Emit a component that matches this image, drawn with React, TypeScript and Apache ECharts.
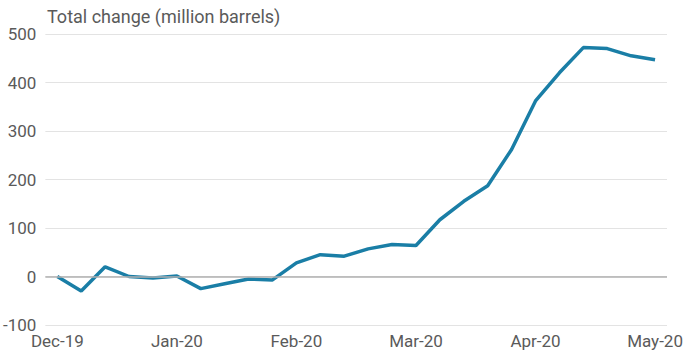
import React, { useEffect, useRef } from "react";
import * as echarts from "echarts";

const categories: string[] = [
  "Dec-19", "w2", "w3", "w4", "w5",
  "Jan-20", "w7", "w8", "w9", "w10",
  "Feb-20", "w12", "w13", "w14", "w15",
  "Mar-20", "w17", "w18", "w19", "w20",
  "Apr-20", "w22", "w23", "w24", "w25",
  "May-20",
];
const values: number[] = [
  0, -30, 20, 0, -3, 1, -25, -15, -5, -7,
  28, 45, 42, 57, 66, 64, 117, 155, 187, 262,
  362, 420, 472, 470, 455, 447,
];
const title = "Total change (million barrels)";

export default function App() {
  const ref = useRef<HTMLDivElement>(null);
  useEffect(() => {
    if (!ref.current) return;
    const chart = echarts.init(ref.current, undefined, { renderer: "svg" });
    chart.setOption({
      animation: false,
      backgroundColor: "#ffffff",
      title: {
        text: title,
        left: 42,
        top: 2,
        textStyle: { fontFamily: "Roboto", fontSize: 18, fontWeight: "normal", color: "#5a5a5a" },
      },
      grid: { left: 43, right: 26, top: 34, bottom: 25, containLabel: false },
      xAxis: {
        type: "category",
        data: categories,
        boundaryGap: true,
        axisLine: { show: false },
        axisTick: { show: false },
        axisLabel: {
          interval: 4,
          margin: 7,
          color: "#5a5a5a",
          fontFamily: "Roboto",
          fontSize: 17,
          formatter: (v: string) => (v.startsWith("w") ? "" : v),
        },
      },
      yAxis: {
        type: "value",
        min: -100,
        max: 500,
        interval: 100,
        axisLine: { show: false },
        axisTick: { show: false },
        axisLabel: { margin: 9, color: "#5a5a5a", fontFamily: "Roboto", fontSize: 17 },
        splitLine: { lineStyle: { color: "#e3e3e3", width: 1 } },
      },
      series: [
        {
          type: "line",
          data: values,
          showSymbol: false,
          lineStyle: { color: "#1a7ea6", width: 3.5 },
          itemStyle: { color: "#1a7ea6" },
          markLine: {
            silent: true,
            symbol: "none",
            label: { show: false },
            lineStyle: { color: "#b0b0b0", width: 1.5, type: "solid" },
            data: [{ yAxis: 0 }],
          },
          z: 3,
        },
      ],
    });
    return () => chart.dispose();
  }, []);
  return (
    <div
      ref={ref}
      style={{ position: "fixed", left: 0, top: 0, width: 693, height: 350 }}
    />
  );
}
